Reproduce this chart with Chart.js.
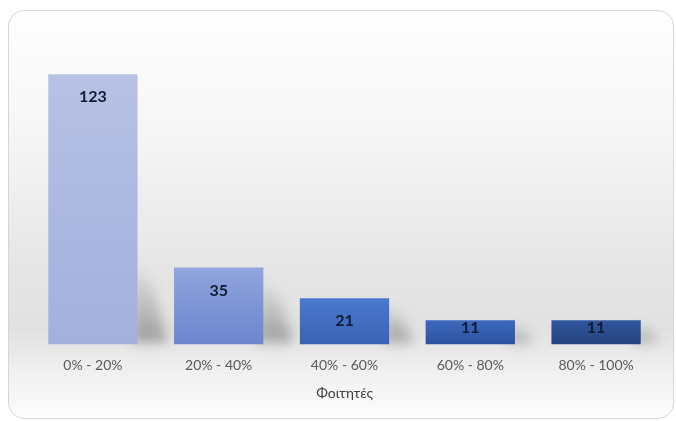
<!DOCTYPE html>
<html>
<head>
<meta charset="utf-8">
<script src="https://cdn.jsdelivr.net/npm/chart.js@4/dist/chart.umd.min.js"></script>
<style>
    html, body { margin: 0; padding: 0; background: #ffffff; }
    #wrap { position: relative; width: 676px; height: 421px; }
    #card {
        position: absolute; left: 8px; top: 10px; width: 664px; height: 407px;
        border: 1px solid #d6d6d6; border-radius: 16px;
        background: linear-gradient(to bottom, #fefefe 0%, #f6f6f6 30%, #e6e6e6 62%, #e1e1e1 78%, #efefef 88%, #fdfdfd 100%);
    }
    #chart { position: absolute; left: 0; top: 0; }
</style>
</head>
<body>
<div id="wrap">
    <div id="card"></div>
    <canvas id="chart" width="676" height="421"></canvas>
</div>
<script>
var categories = ['0% - 20%', '20% - 40%', '40% - 60%', '60% - 80%', '80% - 100%'];
var students = [123, 35, 21, 11, 11];
var axisTitle = 'Φοιτητές';
var barTops = ['#b7c1e5', '#91a5dd', '#4b79cd', '#3d68be', '#31569d'];
var barBottoms = ['#a2b0dd', '#6b85cf', '#3a62b4', '#2c529e', '#24437e'];

function barGradient(context) {
    var chart = context.chart,
        i = context.dataIndex,
        area = chart.chartArea,
        y = chart.scales.y;
    if (!area || !y) return barTops[i];
    var top = y.getPixelForValue(students[i]);
    if (!isFinite(top) || !isFinite(area.bottom)) return barTops[i];
    var g = chart.ctx.createLinearGradient(0, top, 0, area.bottom);
    g.addColorStop(0, barTops[i]);
    g.addColorStop(1, barBottoms[i]);
    return g;
}

// soft shadow thrown to the right of every bar
var barShadows = {
    id: 'barShadows',
    beforeDatasetsDraw: function(chart) {
        var ctx = chart.ctx,
            bars = chart.getDatasetMeta(0).data;
        ctx.save();
        ctx.filter = 'blur(6px)';
        bars.forEach(function(bar) {
            var right = bar.x + bar.width / 2,
                bottom = bar.base,
                h = bottom - bar.y,
                sh = Math.min(h * 0.9, 85),
                sw = Math.min(30, 10 + h * 0.3);
            var g = ctx.createLinearGradient(0, bottom - sh, 0, bottom);
            g.addColorStop(0, 'rgba(90,90,90,0)');
            g.addColorStop(1, 'rgba(70,70,70,0.45)');
            ctx.fillStyle = g;
            ctx.beginPath();
            ctx.moveTo(right - 6, bottom - sh);
            ctx.lineTo(right + sw * 0.5, bottom - sh * 0.7);
            ctx.lineTo(right + sw, bottom - 2);
            ctx.lineTo(right - 6, bottom - 2);
            ctx.closePath();
            ctx.fill();
        });
        ctx.restore();
    }
};

var barLabels = {
    id: 'barLabels',
    afterDatasetsDraw: function(chart) {
        var ctx = chart.ctx,
            bars = chart.getDatasetMeta(0).data;
        ctx.save();
        ctx.font = 'bold 16px Lato, "Open Sans", sans-serif';
        ctx.fillStyle = '#111a33';
        ctx.textAlign = 'center';
        ctx.textBaseline = 'middle';
        bars.forEach(function(bar, i) {
            var h = bar.base - bar.y,
                y = h > 40 ? bar.y + 23 : bar.y + 8;
            ctx.fillText(String(students[i]), bar.x, y);
        });
        ctx.restore();
    }
};

new Chart(document.getElementById('chart').getContext('2d'), {
    type: 'bar',
    data: {
        labels: categories,
        datasets: [
            {
                label: axisTitle,
                data: students,
                backgroundColor: barGradient,
                borderWidth: 0,
                categoryPercentage: 1,
                barPercentage: 0.71
            }
        ]
    },
    options: {
        responsive: false,
        animation: false,
        layout: { padding: { left: 30, right: 17, top: 37, bottom: 17 } },
        plugins: {
            legend: { display: false },
            tooltip: { enabled: false }
        },
        scales: {
            x: {
                grid: { display: false, drawTicks: false },
                border: { display: false },
                ticks: {
                    color: '#595959',
                    padding: 13,
                    font: { family: 'Lato, "Open Sans", sans-serif', size: 14 }
                },
                title: {
                    display: true,
                    text: axisTitle,
                    color: '#404040',
                    padding: { top: -2, bottom: 2 },
                    font: { family: 'Lato, "Open Sans", sans-serif', size: 14 }
                }
            },
            y: {
                display: false,
                min: 0,
                max: 140
            }
        }
    },
    plugins: [barShadows, barLabels]
});
</script>
</body>
</html>
